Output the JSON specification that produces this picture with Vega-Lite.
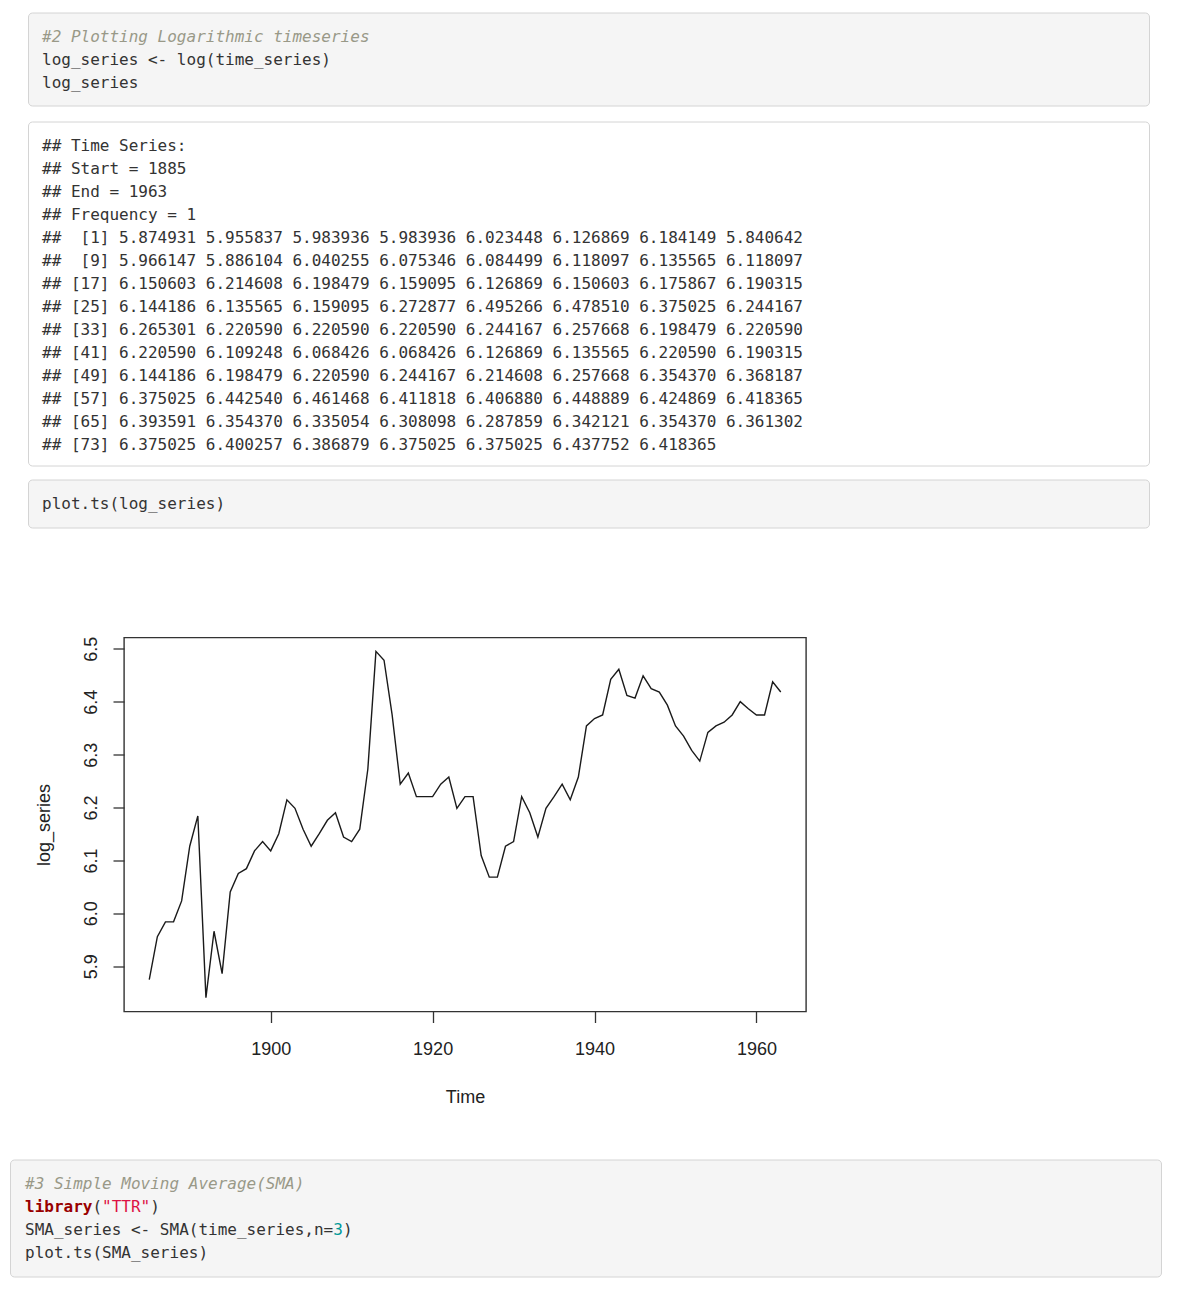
{
  "$schema": "https://vega.github.io/schema/vega-lite/v6.json",
  "background": "white",
  "padding": {"left": 9, "top": 11.5, "right": 5, "bottom": 5},
  "spacing": 0,
  "config": {
    "view": {"stroke": null},
    "text": {"font": "DejaVu Sans Mono", "fontSize": 16, "align": "left", "baseline": "alphabetic"}
  },
  "vconcat": [
    {
      "spacing": 0,
      "hconcat": [
        {"width": 16.5, "height": 1, "data": {"values": []}, "mark": "point", "encoding": {}},
        {
          "width": 1121, "height": 93,
          "view": {"fill": "#f5f5f5", "stroke": "#d4d4d4", "strokeWidth": 1, "cornerRadius": 4},
          "data": {"values": [
            {"line": 0, "col": 0, "kind": "comment", "text": "#2 Plotting Logarithmic timeseries"},
            {"line": 1, "col": 0, "kind": "code", "text": "log_series <- log(time_series)"},
            {"line": 2, "col": 0, "kind": "code", "text": "log_series"}
          ]},
          "encoding": {
            "x": {"field": "col", "type": "quantitative", "scale": {"domain": [-1.45337, 114.92], "nice": false, "zero": false}, "axis": null},
            "y": {"field": "line", "type": "quantitative", "scale": {"domain": [-1.28261, 2.76087], "nice": false, "zero": false, "reverse": true}, "axis": null},
            "text": {"field": "text"},
            "color": {"field": "kind", "type": "nominal", "scale": {"domain": ["code", "comment", "keyword", "string", "number"], "range": ["#333333", "#999988", "#990000", "#dd1144", "#009999"]}, "legend": null}
          },
          "layer": [
            {"transform": [{"filter": "datum.kind !== 'comment' && datum.kind !== 'keyword'"}], "mark": {"type": "text"}},
            {"transform": [{"filter": "datum.kind === 'comment'"}], "mark": {"type": "text", "fontStyle": "italic"}},
            {"transform": [{"filter": "datum.kind === 'keyword'"}], "mark": {"type": "text", "fontWeight": "bold"}}
          ]
        }
      ]
    },
    {"width": 1, "height": 14, "data": {"values": []}, "mark": "point", "encoding": {}},
    {
      "spacing": 0,
      "hconcat": [
        {"width": 16.5, "height": 1, "data": {"values": []}, "mark": "point", "encoding": {}},
        {
          "width": 1121, "height": 344,
          "view": {"fill": "#ffffff", "stroke": "#d4d4d4", "strokeWidth": 1, "cornerRadius": 4},
          "data": {"values": [
            {"line": 0, "col": 0, "kind": "code", "text": "## Time Series:"},
            {"line": 1, "col": 0, "kind": "code", "text": "## Start = 1885"},
            {"line": 2, "col": 0, "kind": "code", "text": "## End = 1963"},
            {"line": 3, "col": 0, "kind": "code", "text": "## Frequency = 1"},
            {"line": 4, "col": 0, "kind": "code", "text": "##\u00a0\u00a0[1] 5.874931 5.955837 5.983936 5.983936 6.023448 6.126869 6.184149 5.840642"},
            {"line": 5, "col": 0, "kind": "code", "text": "##\u00a0\u00a0[9] 5.966147 5.886104 6.040255 6.075346 6.084499 6.118097 6.135565 6.118097"},
            {"line": 6, "col": 0, "kind": "code", "text": "## [17] 6.150603 6.214608 6.198479 6.159095 6.126869 6.150603 6.175867 6.190315"},
            {"line": 7, "col": 0, "kind": "code", "text": "## [25] 6.144186 6.135565 6.159095 6.272877 6.495266 6.478510 6.375025 6.244167"},
            {"line": 8, "col": 0, "kind": "code", "text": "## [33] 6.265301 6.220590 6.220590 6.220590 6.244167 6.257668 6.198479 6.220590"},
            {"line": 9, "col": 0, "kind": "code", "text": "## [41] 6.220590 6.109248 6.068426 6.068426 6.126869 6.135565 6.220590 6.190315"},
            {"line": 10, "col": 0, "kind": "code", "text": "## [49] 6.144186 6.198479 6.220590 6.244167 6.214608 6.257668 6.354370 6.368187"},
            {"line": 11, "col": 0, "kind": "code", "text": "## [57] 6.375025 6.442540 6.461468 6.411818 6.406880 6.448889 6.424869 6.418365"},
            {"line": 12, "col": 0, "kind": "code", "text": "## [65] 6.393591 6.354370 6.335054 6.308098 6.287859 6.342121 6.354370 6.361302"},
            {"line": 13, "col": 0, "kind": "code", "text": "## [73] 6.375025 6.400257 6.386879 6.375025 6.375025 6.437752 6.418365"}
          ]},
          "encoding": {
            "x": {"field": "col", "type": "quantitative", "scale": {"domain": [-1.45337, 114.92], "nice": false, "zero": false}, "axis": null},
            "y": {"field": "line", "type": "quantitative", "scale": {"domain": [-1.28261, 13.67391], "nice": false, "zero": false, "reverse": true}, "axis": null},
            "text": {"field": "text"},
            "color": {"field": "kind", "type": "nominal", "scale": {"domain": ["code", "comment", "keyword", "string", "number"], "range": ["#333333", "#999988", "#990000", "#dd1144", "#009999"]}, "legend": null}
          },
          "mark": {"type": "text"}
        }
      ]
    },
    {"width": 1, "height": 12, "data": {"values": []}, "mark": "point", "encoding": {}},
    {
      "spacing": 0,
      "hconcat": [
        {"width": 16.5, "height": 1, "data": {"values": []}, "mark": "point", "encoding": {}},
        {
          "width": 1121, "height": 48,
          "view": {"fill": "#f5f5f5", "stroke": "#d4d4d4", "strokeWidth": 1, "cornerRadius": 4},
          "data": {"values": [
            {"line": 0, "col": 0, "kind": "code", "text": "plot.ts(log_series)"}
          ]},
          "encoding": {
            "x": {"field": "col", "type": "quantitative", "scale": {"domain": [-1.45337, 114.92], "nice": false, "zero": false}, "axis": null},
            "y": {"field": "line", "type": "quantitative", "scale": {"domain": [-1.28261, 0.80435], "nice": false, "zero": false, "reverse": true}, "axis": null},
            "text": {"field": "text"},
            "color": {"field": "kind", "type": "nominal", "scale": {"domain": ["code", "comment", "keyword", "string", "number"], "range": ["#333333", "#999988", "#990000", "#dd1144", "#009999"]}, "legend": null}
          },
          "mark": {"type": "text"}
        }
      ]
    },
    {"width": 1, "height": 106.75, "data": {"values": []}, "mark": "point", "encoding": {}},
    {
      "spacing": 0,
      "hconcat": [
        {"width": 24, "height": 1, "data": {"values": []}, "mark": "point", "encoding": {}},
        {
          "width": 682, "height": 374,
          "view": {"stroke": "#333333", "strokeWidth": 1.4, "fill": null},
          "data": {"values": [
            {"year": 1885, "log_series": 5.874931}, {"year": 1886, "log_series": 5.955837}, {"year": 1887, "log_series": 5.983936}, {"year": 1888, "log_series": 5.983936},
            {"year": 1889, "log_series": 6.023448}, {"year": 1890, "log_series": 6.126869}, {"year": 1891, "log_series": 6.184149}, {"year": 1892, "log_series": 5.840642},
            {"year": 1893, "log_series": 5.966147}, {"year": 1894, "log_series": 5.886104}, {"year": 1895, "log_series": 6.040255}, {"year": 1896, "log_series": 6.075346},
            {"year": 1897, "log_series": 6.084499}, {"year": 1898, "log_series": 6.118097}, {"year": 1899, "log_series": 6.135565}, {"year": 1900, "log_series": 6.118097},
            {"year": 1901, "log_series": 6.150603}, {"year": 1902, "log_series": 6.214608}, {"year": 1903, "log_series": 6.198479}, {"year": 1904, "log_series": 6.159095},
            {"year": 1905, "log_series": 6.126869}, {"year": 1906, "log_series": 6.150603}, {"year": 1907, "log_series": 6.175867}, {"year": 1908, "log_series": 6.190315},
            {"year": 1909, "log_series": 6.144186}, {"year": 1910, "log_series": 6.135565}, {"year": 1911, "log_series": 6.159095}, {"year": 1912, "log_series": 6.272877},
            {"year": 1913, "log_series": 6.495266}, {"year": 1914, "log_series": 6.478510}, {"year": 1915, "log_series": 6.375025}, {"year": 1916, "log_series": 6.244167},
            {"year": 1917, "log_series": 6.265301}, {"year": 1918, "log_series": 6.220590}, {"year": 1919, "log_series": 6.220590}, {"year": 1920, "log_series": 6.220590},
            {"year": 1921, "log_series": 6.244167}, {"year": 1922, "log_series": 6.257668}, {"year": 1923, "log_series": 6.198479}, {"year": 1924, "log_series": 6.220590},
            {"year": 1925, "log_series": 6.220590}, {"year": 1926, "log_series": 6.109248}, {"year": 1927, "log_series": 6.068426}, {"year": 1928, "log_series": 6.068426},
            {"year": 1929, "log_series": 6.126869}, {"year": 1930, "log_series": 6.135565}, {"year": 1931, "log_series": 6.220590}, {"year": 1932, "log_series": 6.190315},
            {"year": 1933, "log_series": 6.144186}, {"year": 1934, "log_series": 6.198479}, {"year": 1935, "log_series": 6.220590}, {"year": 1936, "log_series": 6.244167},
            {"year": 1937, "log_series": 6.214608}, {"year": 1938, "log_series": 6.257668}, {"year": 1939, "log_series": 6.354370}, {"year": 1940, "log_series": 6.368187},
            {"year": 1941, "log_series": 6.375025}, {"year": 1942, "log_series": 6.442540}, {"year": 1943, "log_series": 6.461468}, {"year": 1944, "log_series": 6.411818},
            {"year": 1945, "log_series": 6.406880}, {"year": 1946, "log_series": 6.448889}, {"year": 1947, "log_series": 6.424869}, {"year": 1948, "log_series": 6.418365},
            {"year": 1949, "log_series": 6.393591}, {"year": 1950, "log_series": 6.354370}, {"year": 1951, "log_series": 6.335054}, {"year": 1952, "log_series": 6.308098},
            {"year": 1953, "log_series": 6.287859}, {"year": 1954, "log_series": 6.342121}, {"year": 1955, "log_series": 6.354370}, {"year": 1956, "log_series": 6.361302},
            {"year": 1957, "log_series": 6.375025}, {"year": 1958, "log_series": 6.400257}, {"year": 1959, "log_series": 6.386879}, {"year": 1960, "log_series": 6.375025},
            {"year": 1961, "log_series": 6.375025}, {"year": 1962, "log_series": 6.437752}, {"year": 1963, "log_series": 6.418365}
          ]},
          "mark": {"type": "line", "color": "#1a1a1a", "strokeWidth": 1.4},
          "encoding": {
            "x": {
              "field": "year", "type": "quantitative",
              "scale": {"domain": [1881.88, 1966.12], "nice": false, "zero": false},
              "axis": {
                "values": [1900, 1920, 1940, 1960], "format": "d", "title": "Time",
                "grid": false, "domain": false, "tickSize": 11, "tickWidth": 1.3, "tickColor": "#333333",
                "labelFont": "Liberation Sans", "labelFontSize": 18, "labelColor": "#222222", "labelPadding": 18,
                "labelFlush": false, "labelOverlap": false,
                "titleFont": "Liberation Sans", "titleFontSize": 18, "titleFontWeight": "normal", "titleColor": "#222222", "titlePadding": 30
              }
            },
            "y": {
              "field": "log_series", "type": "quantitative",
              "scale": {"domain": [5.814457, 6.521451], "nice": false, "zero": false},
              "axis": {
                "values": [5.9, 6.0, 6.1, 6.2, 6.3, 6.4, 6.5], "format": ".1f", "title": "log_series",
                "grid": false, "domain": false, "tickSize": 11, "tickWidth": 1.3, "tickColor": "#333333",
                "labelFont": "Liberation Sans", "labelFontSize": 18, "labelColor": "#222222", "labelPadding": 13,
                "labelAngle": -90, "labelAlign": "center", "labelBaseline": "bottom",
                "labelFlush": false, "labelOverlap": false,
                "titleFont": "Liberation Sans", "titleFontSize": 18, "titleFontWeight": "normal", "titleColor": "#222222", "titlePadding": 29
              }
            }
          }
        }
      ]
    },
    {"width": 1, "height": 51, "data": {"values": []}, "mark": "point", "encoding": {}},
    {
      "width": 1151, "height": 117,
      "view": {"fill": "#f5f5f5", "stroke": "#d4d4d4", "strokeWidth": 1, "cornerRadius": 4},
      "data": {"values": [
        {"line": 0, "col": 0, "kind": "comment", "text": "#3 Simple Moving Average(SMA)"},
        {"line": 1, "col": 0, "kind": "keyword", "text": "library"},
        {"line": 1, "col": 7, "kind": "code", "text": "("},
        {"line": 1, "col": 8, "kind": "string", "text": "\"TTR\""},
        {"line": 1, "col": 13, "kind": "code", "text": ")"},
        {"line": 2, "col": 0, "kind": "code", "text": "SMA_series <- SMA(time_series,n="},
        {"line": 2, "col": 32, "kind": "number", "text": "3"},
        {"line": 2, "col": 33, "kind": "code", "text": ")"},
        {"line": 3, "col": 0, "kind": "code", "text": "plot.ts(SMA_series)"}
      ]},
      "encoding": {
        "x": {"field": "col", "type": "quantitative", "scale": {"domain": [-1.55718, 117.93], "nice": false, "zero": false}, "axis": null},
        "y": {"field": "line", "type": "quantitative", "scale": {"domain": [-1.28261, 3.80435], "nice": false, "zero": false, "reverse": true}, "axis": null},
        "text": {"field": "text"},
        "color": {"field": "kind", "type": "nominal", "scale": {"domain": ["code", "comment", "keyword", "string", "number"], "range": ["#333333", "#999988", "#990000", "#dd1144", "#009999"]}, "legend": null}
      },
      "layer": [
        {"transform": [{"filter": "datum.kind !== 'comment' && datum.kind !== 'keyword'"}], "mark": {"type": "text"}},
        {"transform": [{"filter": "datum.kind === 'comment'"}], "mark": {"type": "text", "fontStyle": "italic"}},
        {"transform": [{"filter": "datum.kind === 'keyword'"}], "mark": {"type": "text", "fontWeight": "bold"}}
      ]
    }
  ]
}
